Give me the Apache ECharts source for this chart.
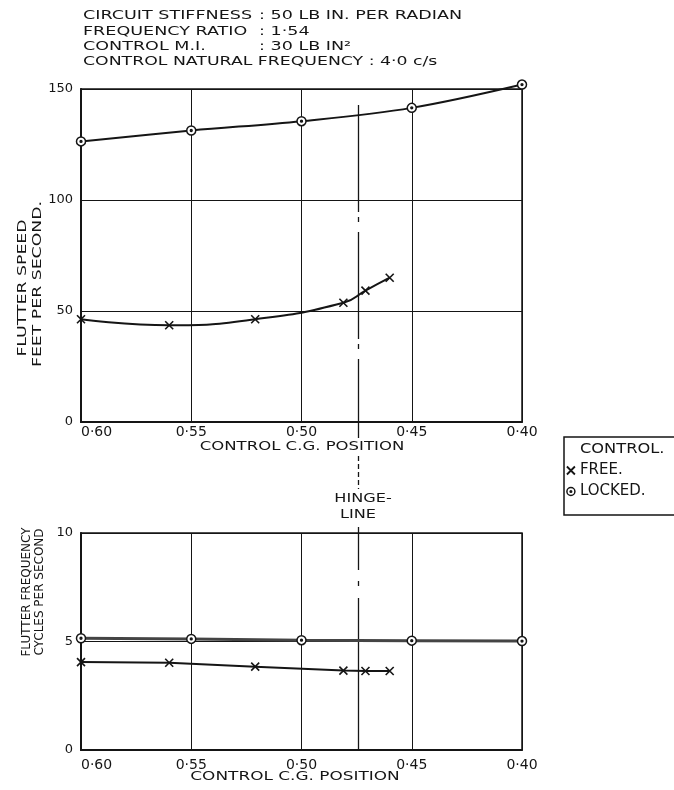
<!DOCTYPE html>
<html>
<head>
<meta charset="utf-8">
<title>Flutter speed and frequency against control C.G. position</title>
<script src="https://cdn.jsdelivr.net/npm/echarts@6/dist/echarts.min.js"></script>
<style>
  html, body { margin: 0; padding: 0; background: #fff; }
  #chart { width: 674px; height: 790px; }
</style>
</head>
<body>
<div id="chart"></div>
<script>
// Control C.G. position (fraction of chord) for each test point
const freeCg = [0.600, 0.560, 0.521, 0.481, 0.471, 0.460];
const lockedCg = [0.60, 0.55, 0.50, 0.45, 0.40];

// Flutter speed, ft/s
const freeSpeed = [46.3, 43.6, 46.3, 53.7, 59.2, 65.0];
const lockedSpeed = [126.4, 131.3, 135.5, 141.5, 152.0];

// Flutter frequency, c/s
const freeFreq = [4.05, 4.02, 3.84, 3.66, 3.64, 3.64];
const lockedFreq = [5.15, 5.12, 5.06, 5.04, 5.02];

// Hinge line position on the C.G. scale
const hingeCg = 0.4744;

// Axis ranges
const cgRange = [0.40, 0.60, 0.05];
const speedRange = [0, 150, 50];
const freqRange = [0, 10, 5];

// Header notes
const headerRows = [
  ['CIRCUIT STIFFNESS', ': 50 LB IN. PER RADIAN'],
  ['FREQUENCY RATIO', ': 1·54'],
  ['CONTROL M.I.', ': 30 LB IN²']
];
const headerLast = 'CONTROL NATURAL FREQUENCY : 4·0 c/s';

const INK = '#151515';
const FONT = '"DejaVu Sans", sans-serif';

const crossPath = 'path://M0,0 L10,10 M10,0 L0,10';
const ringPath = 'path://M10,0 A10,10 0 1,1 -10,0 A10,10 0 1,1 10,0 Z M2,0 A2,2 0 1,1 -2,0 A2,2 0 1,1 2,0 Z';

const zip = (xs, ys) => xs.map((x, i) => [x, ys[i]]);
const cgLabel = v => v.toFixed(2).replace('.', '·');

function txt(text, x, y, opts) {
  opts = opts || {};
  return {
    type: 'text', x: x, y: y,
    scaleX: opts.scaleX || 1,
    rotation: opts.rotation || 0,
    silent: true,
    style: {
      text: text, fill: INK,
      fontSize: opts.size || 13, fontFamily: FONT,
      align: opts.align || 'left', verticalAlign: 'middle'
    }
  };
}

function xAxisFor(grid, margin) {
  return {
    gridIndex: grid, type: 'value',
    min: cgRange[0], max: cgRange[1], interval: cgRange[2], inverse: true,
    axisLine: { show: true, lineStyle: { color: INK, width: 2 } },
    axisTick: { show: false },
    splitLine: { show: true, lineStyle: { color: INK, width: 1 } },
    axisLabel: {
      color: INK, fontSize: 14, fontFamily: FONT, margin: margin,
      formatter: cgLabel, alignMaxLabel: 'left'
    }
  };
}

function yAxisFor(grid, range) {
  return {
    gridIndex: grid, type: 'value',
    min: range[0], max: range[1], interval: range[2],
    axisLine: { show: true, lineStyle: { color: INK, width: 2 } },
    axisTick: { show: false },
    splitLine: { show: true, lineStyle: { color: INK, width: 1 } },
    axisLabel: { color: INK, fontSize: 13, fontFamily: FONT, margin: 8 }
  };
}

function curve(name, grid, data, symbol, smooth, lineOpts) {
  lineOpts = lineOpts || {};
  return {
    name: name, type: 'line',
    xAxisIndex: grid, yAxisIndex: grid,
    data: data, smooth: smooth, clip: false,
    symbol: symbol, symbolSize: symbol === crossPath ? 8 : 9,
    showAllSymbol: true,
    lineStyle: { color: lineOpts.color || INK, width: lineOpts.width || 2 },
    itemStyle: symbol === crossPath
      ? { color: INK, borderColor: INK, borderWidth: 1.6 }
      : { color: '#fff', borderColor: INK, borderWidth: 1.5 },
    emphasis: { disabled: true },
    z: 3
  };
}

const graphics = [];
headerRows.forEach((row, i) => {
  const y = [16, 32, 46.5][i];
  graphics.push(txt(row[0], 83, y, { scaleX: 1.35 }));
  graphics.push(txt(row[1], 259, y, { scaleX: 1.35 }));
});
graphics.push(txt(headerLast, 83, 61.5, { scaleX: 1.33 }));

// Axis titles
graphics.push(txt('FLUTTER SPEED', 23, 288, { rotation: Math.PI / 2, align: 'center', scaleX: 1.33 }));
graphics.push(txt('FEET PER SECOND.', 37.5, 284, { rotation: Math.PI / 2, align: 'center', scaleX: 1.33 }));
graphics.push(txt('FLUTTER FREQUENCY', 27, 592, { rotation: Math.PI / 2, align: 'center', size: 12 }));
graphics.push(txt('CYCLES PER SECOND', 40, 592, { rotation: Math.PI / 2, align: 'center', size: 12 }));
graphics.push(txt('CONTROL C.G. POSITION', 302, 447, { align: 'center', scaleX: 1.27 }));
graphics.push(txt('CONTROL C.G. POSITION', 295, 777, { align: 'center', scaleX: 1.3 }));

// Hinge line label and legend heading
graphics.push(txt('HINGE-', 363, 499, { align: 'center', scaleX: 1.24 }));
graphics.push(txt('LINE', 358, 515, { align: 'center', scaleX: 1.24 }));
graphics.push(txt('CONTROL.', 580, 449, { size: 14, scaleX: 1.16 }));

const option = {
  animation: false,
  backgroundColor: '#fff',
  textStyle: { fontFamily: FONT, color: INK },
  grid: [
    { left: 81, right: 152, top: 89, bottom: 368, show: true, borderColor: INK, borderWidth: 1.5 },
    { left: 81, right: 152, top: 533, bottom: 40, show: true, borderColor: INK, borderWidth: 1.5 },
    { left: 81, right: 152, top: 0, bottom: 0 }
  ],
  xAxis: [
    xAxisFor(0, 3),
    xAxisFor(1, 8),
    { gridIndex: 2, type: 'value', min: cgRange[0], max: cgRange[1], inverse: true, show: false }
  ],
  yAxis: [
    yAxisFor(0, speedRange),
    yAxisFor(1, freqRange),
    // page-height scale used only to place the hinge line
    { gridIndex: 2, type: 'value', min: 0, max: 790, inverse: true, show: false }
  ],
  legend: {
    orient: 'vertical', left: 564, top: 437,
    padding: [26, 40, 16, 2],
    itemWidth: 8, itemHeight: 12, itemGap: 6,
    borderColor: INK, borderWidth: 1.5,
    selectedMode: false,
    textStyle: { color: INK, fontSize: 15, fontFamily: FONT, lineHeight: 14 },
    data: [
      { name: 'FREE.', icon: crossPath, itemStyle: { color: INK, borderColor: INK, borderWidth: 1.8 } },
      { name: 'LOCKED.', icon: ringPath, itemStyle: { color: '#fff', borderColor: INK, borderWidth: 1.5 } }
    ]
  },
  graphic: { elements: graphics },
  series: [
    curve('LOCKED.', 0, zip(lockedCg, lockedSpeed), ringPath, 0.35),
    curve('FREE.', 0, zip(freeCg, freeSpeed), crossPath, 0.5),
    curve('LOCKED.', 1, zip(lockedCg, lockedFreq), ringPath, false, { color: '#444', width: 3 }),
    curve('FREE.', 1, zip(freeCg, freeFreq), crossPath, false),
    {
      name: 'hinge', type: 'lines', coordinateSystem: 'cartesian2d',
      xAxisIndex: 2, yAxisIndex: 2, silent: true, z: 2,
      lineStyle: { color: INK, width: 1.3, type: [107, 5, 5, 10], opacity: 1 },
      data: [
        { coords: [[hingeCg, 105], [hingeCg, 438]] },
        { coords: [[hingeCg, 456], [hingeCg, 489]], lineStyle: { type: [5, 3] } },
        { coords: [[hingeCg, 527], [hingeCg, 750]], lineStyle: { type: [43, 11, 5, 12, 300] } }
      ]
    }
  ]
};

const chart = echarts.init(document.getElementById('chart'), null, { renderer: 'canvas' });
chart.setOption(option);
</script>
</body>
</html>
